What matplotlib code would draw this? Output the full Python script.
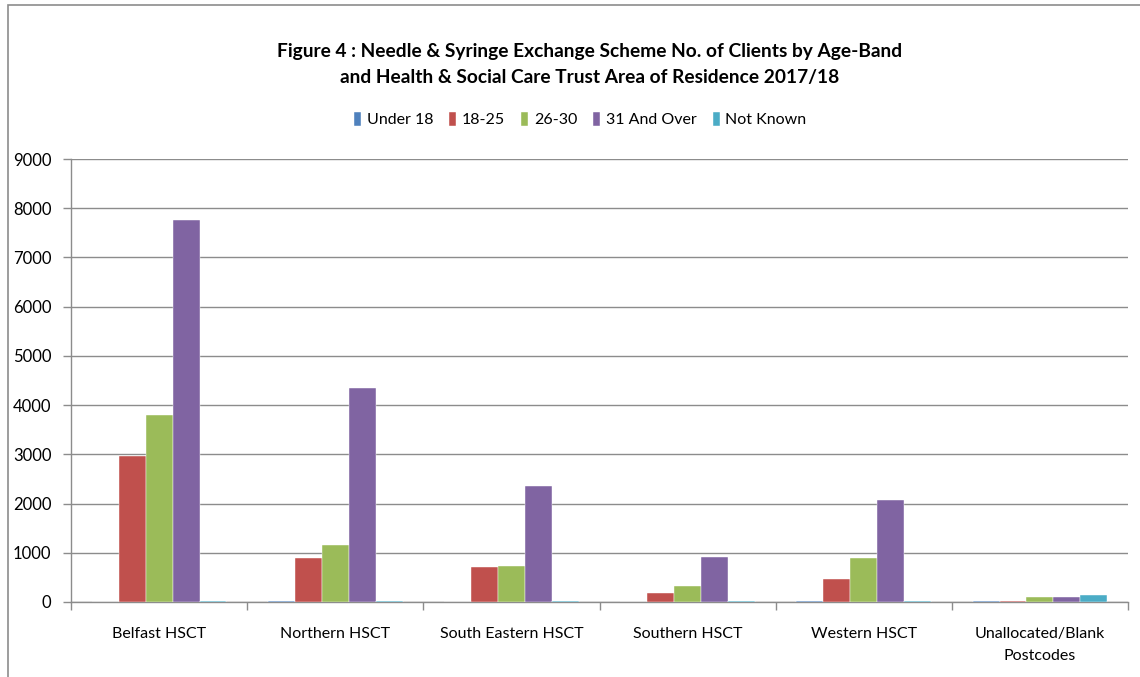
import numpy as np
import matplotlib
matplotlib.use("Agg")
import matplotlib.pyplot as plt
from matplotlib.patches import Rectangle

plt.rcParams['font.family'] = ['Lato', 'DejaVu Sans']

trusts = ["Belfast HSCT", "Northern HSCT", "South Eastern HSCT",
          "Southern HSCT", "Western HSCT", "Unallocated/Blank\nPostcodes"]
bands = ["Under 18", "18-25", "26-30", "31 And Over", "Not Known"]

under_18 = [0, 20, 0, 0, 20, 20]
age_18_25 = [2960, 890, 710, 180, 460, 25]
age_26_30 = [3790, 1160, 730, 325, 900, 100]
age_31_over = [7760, 4345, 2365, 910, 2080, 100]
not_known = [20, 20, 20, 20, 20, 140]

series = [under_18, age_18_25, age_26_30, age_31_over, not_known]
colors = ['#4F81BD', '#C0504D', '#9BBB59', '#8064A2', '#4BACC6']

fig = plt.figure(figsize=(11.4, 6.77), dpi=100)
ax = fig.add_axes([0.0623, 0.1108, 0.9272, 0.6543])

# outer chart frame (cut off on right and bottom like the screenshot)
fig.patches.append(Rectangle((0.007, -0.1), 1.1, 1.092, transform=fig.transFigure,
                             fill=False, edgecolor='#8c8c8c', linewidth=1.2))

x = np.arange(len(trusts))
w = 0.153
for i, (vals, c, lab) in enumerate(zip(series, colors, bands)):
    ax.bar(x + (i - 2) * w, vals, width=w, color=c, label=lab,
           edgecolor='white', linewidth=0.3, zorder=3)

ax.set_xlim(-0.5, len(trusts) - 0.5)
ax.set_ylim(0, 9000)
ax.set_yticks(np.arange(0, 9001, 1000))
ax.yaxis.grid(True, color='#8c8c8c', linewidth=1.0, zorder=0)

ax.set_xticks(np.arange(-0.5, len(trusts), 1.0))
ax.set_xticklabels([])
ax.set_xticks(x, minor=True)
ax.set_xticklabels(trusts, minor=True, fontsize=11.5, linespacing=1.75)
ax.tick_params(axis='x', which='minor', length=0, pad=18)
ax.tick_params(axis='x', which='major', length=6, color='#8c8c8c', width=1)
ax.tick_params(axis='y', length=6, color='#8c8c8c', width=1, labelsize=12, pad=8)

for s in ['top', 'right']:
    ax.spines[s].set_visible(False)
for s in ['left', 'bottom']:
    ax.spines[s].set_color('#8c8c8c')
    ax.spines[s].set_linewidth(1.0)

fig.text(0.517, 0.905, "Figure 4 : Needle & Syringe Exchange Scheme No. of Clients by Age-Band\n"
         "and Health & Social Care Trust Area of Residence 2017/18",
         ha='center', va='center', fontsize=13.8, fontweight='bold', linespacing=1.65)

fig.legend(loc='center', bbox_to_anchor=(0.509, 0.823), ncol=5, frameon=False,
           fontsize=11.5, handlelength=0.45, handleheight=0.9, handletextpad=0.35,
           columnspacing=1.0)

fig.savefig("out.png", dpi=100)
